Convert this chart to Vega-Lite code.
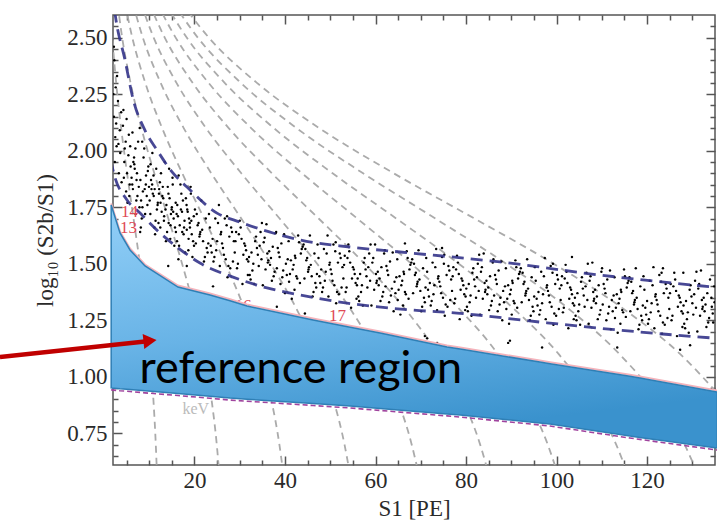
{
"$schema":"https://vega.github.io/schema/vega-lite/v6.json",
"width":602,"height":450,
"autosize":{"type":"none"},
"padding":{"left":113,"top":15,"right":2,"bottom":61},
"background":"white",
"config":{
 "view":{"stroke":"#555","strokeWidth":1.5},
 "style":{"guide-label":{"font":"Liberation Serif","fontSize":23,"fill":"#2a2a2a"},"guide-title":{"font":"Liberation Serif","fontSize":23,"fontWeight":"normal","fill":"#2a2a2a"}},
 "axis":{"labelFont":"Liberation Serif","labelFontSize":23,"labelColor":"#2a2a2a","titleFont":"Liberation Serif","titleFontSize":23,"titleFontWeight":"normal","titleColor":"#2a2a2a","domain":false,"grid":false,"tickColor":"#555","tickWidth":1.5}
},
"datasets":{
"grey":[
{"a":12.5,"s":1.235,"r":2.7},{"a":12.5,"s":1.851,"r":2.5},{"a":12.5,"s":2.699,"r":2.3},{"a":12.5,"s":3.798,"r":2.1},{"a":12.5,"s":5.113,"r":1.9},{"a":12.5,"s":6.538,"r":1.7},{"a":12.5,"s":7.935,"r":1.5},{"a":12.5,"s":9.17,"r":1.3},{"a":12.5,"s":10.17,"r":1.1},{"a":12.5,"s":10.922,"r":0.9},{"a":12.5,"s":11.455,"r":0.7},{"a":12.5,"s":11.656,"r":0.6},
{"a":27.2,"s":2.688,"r":2.7},{"a":27.2,"s":4.027,"r":2.5},{"a":27.2,"s":5.874,"r":2.3},{"a":27.2,"s":8.265,"r":2.1},{"a":27.2,"s":11.125,"r":1.9},{"a":27.2,"s":14.226,"r":1.7},{"a":27.2,"s":17.265,"r":1.5},{"a":27.2,"s":19.954,"r":1.3},{"a":27.2,"s":22.13,"r":1.1},{"a":27.2,"s":23.766,"r":0.9},{"a":27.2,"s":24.927,"r":0.7},{"a":27.2,"s":25.364,"r":0.6},
{"a":42.3,"s":4.18,"r":2.7},{"a":42.3,"s":6.263,"r":2.5},{"a":42.3,"s":9.134,"r":2.3},{"a":42.3,"s":12.853,"r":2.1},{"a":42.3,"s":17.301,"r":1.9},{"a":42.3,"s":22.123,"r":1.7},{"a":42.3,"s":26.85,"r":1.5},{"a":42.3,"s":31.032,"r":1.3},{"a":42.3,"s":34.416,"r":1.1},{"a":42.3,"s":36.959,"r":0.9},{"a":42.3,"s":38.765,"r":0.7},{"a":42.3,"s":39.444,"r":0.6},
{"a":58,"s":5.731,"r":2.7},{"a":58,"s":8.587,"r":2.5},{"a":58,"s":12.525,"r":2.3},{"a":58,"s":17.624,"r":2.1},{"a":58,"s":23.722,"r":1.9},{"a":58,"s":30.335,"r":1.7},{"a":58,"s":36.816,"r":1.5},{"a":58,"s":42.55,"r":1.3},{"a":58,"s":47.189,"r":1.1},{"a":58,"s":50.677,"r":0.9},{"a":58,"s":53.152,"r":0.7},{"a":58,"s":54.084,"r":0.6},
{"a":74.2,"s":7.332,"r":2.7},{"a":74.2,"s":10.986,"r":2.5},{"a":74.2,"s":16.023,"r":2.3},{"a":74.2,"s":22.546,"r":2.1},{"a":74.2,"s":30.348,"r":1.9},{"a":74.2,"s":38.807,"r":1.7},{"a":74.2,"s":47.099,"r":1.5},{"a":74.2,"s":54.435,"r":1.3},{"a":74.2,"s":60.37,"r":1.1},{"a":74.2,"s":64.832,"r":0.9},{"a":74.2,"s":67.998,"r":0.7},{"a":74.2,"s":69.191,"r":0.6},
{"a":90.7,"s":8.962,"r":2.7},{"a":90.7,"s":13.429,"r":2.5},{"a":90.7,"s":19.586,"r":2.3},{"a":90.7,"s":27.56,"r":2.1},{"a":90.7,"s":37.096,"r":1.9},{"a":90.7,"s":47.437,"r":1.7},{"a":90.7,"s":57.573,"r":1.5},{"a":90.7,"s":66.539,"r":1.3},{"a":90.7,"s":73.794,"r":1.1},{"a":90.7,"s":79.248,"r":0.9},{"a":90.7,"s":83.119,"r":0.7},{"a":90.7,"s":84.577,"r":0.6},
{"a":107,"s":10.573,"r":2.7},{"a":107,"s":15.842,"r":2.5},{"a":107,"s":23.106,"r":2.3},{"a":107,"s":32.513,"r":2.1},{"a":107,"s":43.763,"r":1.9},{"a":107,"s":55.962,"r":1.7},{"a":107,"s":67.919,"r":1.5},{"a":107,"s":78.497,"r":1.3},{"a":107,"s":87.056,"r":1.1},{"a":107,"s":93.49,"r":0.9},{"a":107,"s":98.057,"r":0.7},{"a":107,"s":99.776,"r":0.6},
{"a":123.5,"s":12.203,"r":2.7},{"a":123.5,"s":18.285,"r":2.5},{"a":123.5,"s":26.669,"r":2.3},{"a":123.5,"s":37.527,"r":2.1},{"a":123.5,"s":50.512,"r":1.9},{"a":123.5,"s":64.592,"r":1.7},{"a":123.5,"s":78.393,"r":1.5},{"a":123.5,"s":90.602,"r":1.3},{"a":123.5,"s":100.481,"r":1.1},{"a":123.5,"s":107.907,"r":0.9},{"a":123.5,"s":113.178,"r":0.7},{"a":123.5,"s":115.163,"r":0.6},
{"a":140,"s":13.833,"r":2.7},{"a":140,"s":20.728,"r":2.5},{"a":140,"s":30.232,"r":2.3},{"a":140,"s":42.54,"r":2.1},{"a":140,"s":57.26,"r":1.9},{"a":140,"s":73.221,"r":1.7},{"a":140,"s":88.866,"r":1.5},{"a":140,"s":102.707,"r":1.3},{"a":140,"s":113.905,"r":1.1},{"a":140,"s":122.324,"r":0.9},{"a":140,"s":128.299,"r":0.7},{"a":140,"s":130.549,"r":0.6},
{"a":156.5,"s":15.464,"r":2.7},{"a":156.5,"s":23.171,"r":2.5},{"a":156.5,"s":33.795,"r":2.3},{"a":156.5,"s":47.554,"r":2.1},{"a":156.5,"s":64.009,"r":1.9},{"a":156.5,"s":81.851,"r":1.7},{"a":156.5,"s":99.34,"r":1.5},{"a":156.5,"s":114.812,"r":1.3},{"a":156.5,"s":127.33,"r":1.1},{"a":156.5,"s":136.74,"r":0.9}
],
"navy":[
{"b":"up","s":2.35,"r":2.62},{"b":"up","s":2.66,"r":2.578},{"b":"up","s":4.65,"r":2.401},{"b":"up","s":6.49,"r":2.224},{"b":"up","s":9.07,"r":2.09},{"b":"up","s":11.72,"r":2.003},{"b":"up","s":15.04,"r":1.906},{"b":"up","s":18.35,"r":1.839},{"b":"up","s":24.98,"r":1.724},{"b":"up","s":30.06,"r":1.684},{"b":"up","s":37.35,"r":1.636},{"b":"up","s":43.32,"r":1.605},{"b":"up","s":54.36,"r":1.574},{"b":"up","s":65.41,"r":1.552},{"b":"up","s":87.5,"r":1.508},{"b":"up","s":109.6,"r":1.45},{"b":"up","s":135.5,"r":1.395},
{"b":"lo","s":1.5,"r":1.96},{"b":"lo","s":2.0,"r":1.914},{"b":"lo","s":5.09,"r":1.782},{"b":"lo","s":7.97,"r":1.724},{"b":"lo","s":12.38,"r":1.636},{"b":"lo","s":16.14,"r":1.574},{"b":"lo","s":21.22,"r":1.503},{"b":"lo","s":28.51,"r":1.441},{"b":"lo","s":36.03,"r":1.393},{"b":"lo","s":43.32,"r":1.362},{"b":"lo","s":53.7,"r":1.326},{"b":"lo","s":68.28,"r":1.295},{"b":"lo","s":78.0,"r":1.282},{"b":"lo","s":96.34,"r":1.242},{"b":"lo","s":118.4,"r":1.198},{"b":"lo","s":135.5,"r":1.17}
],
"poly":[
{"s":1.6,"top":1.76,"bot":0.951},{"s":3.55,"top":1.636,"bot":0.947},{"s":5.76,"top":1.561,"bot":0.944},{"s":9.07,"top":1.49,"bot":0.938},{"s":16.36,"top":1.397,"bot":0.926},{"s":23.43,"top":1.362,"bot":0.914},{"s":27.85,"top":1.336,"bot":0.906},{"s":31.6,"top":1.313,"bot":0.901},{"s":46.2,"top":1.251,"bot":0.882},{"s":54.4,"top":1.219,"bot":0.871},{"s":61.0,"top":1.194,"bot":0.86},{"s":75.8,"top":1.132,"bot":0.836},{"s":78.7,"top":1.123,"bot":0.831},{"s":96.3,"top":1.065,"bot":0.796},{"s":98.55,"top":1.058,"bot":0.791},{"s":116.2,"top":1.002,"bot":0.738},{"s":118.4,"top":0.995,"bot":0.732},{"s":135.5,"top":0.933,"bot":0.685}
],
"lbl":[{"s":5.65,"r":1.731,"t":"14"},{"s":5.42,"r":1.656,"t":"13"},{"s":30.7,"r":1.313,"t":"16"},{"s":51.6,"r":1.267,"t":"17"}],
"pts":[
{"s":2.3,"r":2.4},{"s":2.6,"r":2.28},{"s":2.2,"r":2.15},{"s":3.1,"r":2.22},{"s":2.8,"r":2.02},{"s":3.5,"r":2.09},{"s":2.4,"r":1.95},{"s":3.8,"r":2.17},{"s":2.9,"r":2.33},{"s":3.3,"r":1.9},{"s":2.5,"r":2.06},{"s":3.6,"r":1.99},{"s":2.1,"r":2.25},{"s":3.9,"r":1.86},{"s":2.2,"r":2.46},{"s":2.7,"r":2.12},{"s":3.2,"r":2.03},
{"s":4.2,"r":2.11},{"s":4.5,"r":1.95},{"s":4.8,"r":2.04},{"s":5.1,"r":1.9},{"s":5.4,"r":1.98},{"s":5.7,"r":1.85},{"s":4.3,"r":2.18},{"s":4.9,"r":1.82},{"s":5.5,"r":2.07},{"s":5.9,"r":1.93},{"s":4.6,"r":2.01},{"s":5.2,"r":1.77},{"s":5.8,"r":2.02},{"s":4.4,"r":1.88},{"s":5.0,"r":2.14},{"s":5.6,"r":1.8},
{"s":6.5,"r":1.95},{"s":7.7,"r":1.84},{"s":6.95,"r":2.01},{"s":6.1,"r":1.88},{"s":7.4,"r":1.8},{"s":6.65,"r":1.97},{"s":7.85,"r":1.75},{"s":6.3,"r":2.08},{"s":7.15,"r":1.78},{"s":6.8,"r":1.92},{"s":7.55,"r":2.04},{"s":6.25,"r":1.85},{"s":7.0,"r":1.72},{"s":7.9,"r":2.1},{"s":6.4,"r":1.83},{"s":7.3,"r":1.9},{"s":6.7,"r":1.94},{"s":7.2,"r":1.87},
{"s":9.3,"r":1.89},{"s":8.2,"r":1.78},{"s":9.8,"r":1.93},{"s":8.6,"r":1.82},{"s":9.1,"r":1.72},{"s":8.05,"r":1.87},{"s":9.6,"r":1.76},{"s":8.9,"r":2.01},{"s":8.35,"r":1.7},{"s":9.95,"r":1.84},{"s":8.75,"r":1.97},{"s":9.45,"r":1.8},{"s":8.15,"r":1.66},{"s":9.25,"r":1.85},{"s":8.5,"r":1.75},{"s":9.7,"r":1.91},{"s":9.0,"r":1.83},{"s":8.45,"r":2.04},
{"s":10.5,"r":1.83},{"s":11.7,"r":1.74},{"s":10.95,"r":1.89},{"s":10.1,"r":1.78},{"s":11.4,"r":1.69},{"s":10.65,"r":1.85},{"s":11.85,"r":1.76},{"s":10.3,"r":1.94},{"s":11.15,"r":1.66},{"s":10.8,"r":1.81},{"s":11.55,"r":1.92},{"s":10.25,"r":1.72},{"s":11.0,"r":1.8},{"s":11.9,"r":1.77},{"s":10.4,"r":1.87},{"s":11.3,"r":1.63},{"s":10.7,"r":1.99},{"s":11.2,"r":1.83},
{"s":13.3,"r":1.71},{"s":12.2,"r":1.83},{"s":13.8,"r":1.76},{"s":12.6,"r":1.9},{"s":13.1,"r":1.79},{"s":12.05,"r":1.68},{"s":13.6,"r":1.74},{"s":12.9,"r":1.8},{"s":12.35,"r":1.86},{"s":13.95,"r":1.64},{"s":12.75,"r":1.73},{"s":13.45,"r":1.95},{"s":12.15,"r":1.81},{"s":13.25,"r":1.69},{"s":12.5,"r":1.77},{"s":13.7,"r":1.6},{"s":13.0,"r":1.84},{"s":12.45,"r":1.66},
{"s":14.5,"r":1.79},{"s":15.7,"r":1.66},{"s":14.95,"r":1.74},{"s":14.1,"r":1.84},{"s":15.4,"r":1.7},{"s":14.65,"r":1.61},{"s":15.85,"r":1.77},{"s":14.3,"r":1.68},{"s":15.15,"r":1.88},{"s":14.8,"r":1.72},{"s":15.55,"r":1.58},{"s":14.25,"r":1.81},{"s":15.0,"r":1.75},{"s":15.9,"r":1.64},{"s":14.4,"r":1.92},{"s":15.3,"r":1.73},{"s":14.7,"r":1.67},{"s":15.2,"r":1.85},
{"s":17.3,"r":1.64},{"s":16.2,"r":1.76},{"s":17.8,"r":1.69},{"s":16.6,"r":1.58},{"s":17.1,"r":1.81},{"s":16.05,"r":1.72},{"s":17.6,"r":1.63},{"s":16.9,"r":1.85},{"s":16.35,"r":1.71},{"s":17.95,"r":1.55},{"s":16.75,"r":1.67},{"s":17.45,"r":1.78},{"s":16.15,"r":1.6},{"s":17.25,"r":1.73},{"s":16.5,"r":1.89},{"s":17.7,"r":1.66},{"s":17.0,"r":1.74},{"s":16.45,"r":1.52},
{"s":18.5,"r":1.73},{"s":19.7,"r":1.6},{"s":18.95,"r":1.68},{"s":18.1,"r":1.79},{"s":19.4,"r":1.63},{"s":18.65,"r":1.56},{"s":19.85,"r":1.71},{"s":18.3,"r":1.65},{"s":19.15,"r":1.84},{"s":18.8,"r":1.7},{"s":19.55,"r":1.53},{"s":18.25,"r":1.76},{"s":19.0,"r":1.66},{"s":19.9,"r":1.58},{"s":18.4,"r":1.74},{"s":19.3,"r":1.69},{"s":18.7,"r":1.61},{"s":19.2,"r":1.81},
{"s":21.7,"r":1.65},{"s":20.3,"r":1.59},{"s":22.5,"r":1.7},{"s":21.1,"r":1.62},{"s":22.9,"r":1.55},{"s":20.7,"r":1.67},{"s":21.9,"r":1.6},{"s":20.1,"r":1.74},{"s":22.3,"r":1.53},{"s":21.3,"r":1.64},{"s":20.5,"r":1.72},{"s":22.7,"r":1.57},{"s":20.9,"r":1.68},{"s":22.1,"r":1.51},{"s":21.5,"r":1.78},{"s":21.2,"r":1.63},
{"s":23.6,"r":1.58},{"s":25.2,"r":1.68},{"s":24.4,"r":1.53},{"s":25.8,"r":1.63},{"s":23.2,"r":1.72},{"s":24.8,"r":1.56},{"s":24.0,"r":1.61},{"s":25.6,"r":1.49},{"s":23.4,"r":1.66},{"s":25.0,"r":1.6},{"s":24.6,"r":1.7},{"s":23.8,"r":1.55},{"s":25.4,"r":1.76},{"s":24.2,"r":1.51},{"s":25.9,"r":1.64},{"s":23.05,"r":1.59},
{"s":27.7,"r":1.62},{"s":26.3,"r":1.57},{"s":28.5,"r":1.51},{"s":27.1,"r":1.67},{"s":28.9,"r":1.55},{"s":26.7,"r":1.7},{"s":27.9,"r":1.48},{"s":26.1,"r":1.59},{"s":28.3,"r":1.64},{"s":27.3,"r":1.44},{"s":26.5,"r":1.54},{"s":28.7,"r":1.6},{"s":26.9,"r":1.52},{"s":28.1,"r":1.66},{"s":27.5,"r":1.49},{"s":27.2,"r":1.71},
{"s":29.6,"r":1.5},{"s":31.2,"r":1.58},{"s":30.4,"r":1.61},{"s":31.8,"r":1.45},{"s":29.2,"r":1.64},{"s":30.8,"r":1.54},{"s":30.0,"r":1.69},{"s":31.6,"r":1.52},{"s":29.4,"r":1.48},{"s":31.0,"r":1.59},{"s":30.6,"r":1.41},{"s":29.8,"r":1.63},{"s":31.4,"r":1.56},{"s":30.2,"r":1.66},{"s":31.9,"r":1.51},{"s":29.05,"r":1.6},
{"s":32.6,"r":1.55},{"s":34.2,"r":1.49},{"s":33.4,"r":1.6},{"s":34.8,"r":1.52},{"s":32.2,"r":1.45},{"s":33.8,"r":1.57},{"s":33.0,"r":1.5},{"s":34.6,"r":1.64},{"s":32.4,"r":1.43},{"s":34.0,"r":1.54},{"s":33.6,"r":1.62},{"s":32.8,"r":1.47},{"s":34.4,"r":1.58},{"s":33.2,"r":1.41},{"s":34.9,"r":1.68},{"s":32.05,"r":1.53},
{"s":36.7,"r":1.495},{"s":35.3,"r":1.595},{"s":37.5,"r":1.445},{"s":36.1,"r":1.545},{"s":37.9,"r":1.635},{"s":35.7,"r":1.475},{"s":36.9,"r":1.525},{"s":35.1,"r":1.405},{"s":37.3,"r":1.575},{"s":36.3,"r":1.515},{"s":35.5,"r":1.615},{"s":37.7,"r":1.465},{"s":35.9,"r":1.675},{"s":37.1,"r":1.425},{"s":36.5,"r":1.555},{"s":36.2,"r":1.505},
{"s":38.6,"r":1.55},{"s":40.2,"r":1.5},{"s":39.4,"r":1.44},{"s":40.8,"r":1.6},{"s":38.2,"r":1.48},{"s":39.8,"r":1.63},{"s":39.0,"r":1.41},{"s":40.6,"r":1.52},{"s":38.4,"r":1.57},{"s":40.0,"r":1.37},{"s":39.6,"r":1.47},{"s":38.8,"r":1.53},{"s":40.4,"r":1.45},{"s":39.2,"r":1.59},{"s":40.9,"r":1.42},{"s":38.05,"r":1.64},
{"s":42.7,"r":1.435},{"s":41.3,"r":1.515},{"s":43.5,"r":1.545},{"s":42.1,"r":1.385},{"s":43.9,"r":1.575},{"s":41.7,"r":1.475},{"s":42.9,"r":1.625},{"s":41.1,"r":1.455},{"s":43.3,"r":1.415},{"s":42.3,"r":1.525},{"s":41.5,"r":1.345},{"s":43.7,"r":1.565},{"s":41.9,"r":1.495},{"s":43.1,"r":1.595},{"s":42.5,"r":1.445},{"s":42.2,"r":1.535},
{"s":45.7,"r":1.495},{"s":44.3,"r":1.435},{"s":46.5,"r":1.545},{"s":45.1,"r":1.465},{"s":46.9,"r":1.395},{"s":44.7,"r":1.515},{"s":45.9,"r":1.445},{"s":44.1,"r":1.585},{"s":46.3,"r":1.375},{"s":45.3,"r":1.485},{"s":44.5,"r":1.565},{"s":46.7,"r":1.415},{"s":44.9,"r":1.525},{"s":46.1,"r":1.355},{"s":45.5,"r":1.625},{"s":45.2,"r":1.475},
{"s":47.6,"r":1.445},{"s":49.2,"r":1.545},{"s":48.4,"r":1.395},{"s":49.8,"r":1.495},{"s":47.2,"r":1.585},{"s":48.8,"r":1.425},{"s":48.0,"r":1.475},{"s":49.6,"r":1.355},{"s":47.4,"r":1.525},{"s":49.0,"r":1.465},{"s":48.6,"r":1.565},{"s":47.8,"r":1.415},{"s":49.4,"r":1.625},{"s":48.2,"r":1.375},{"s":49.9,"r":1.505},{"s":47.05,"r":1.455},
{"s":51.7,"r":1.505},{"s":50.3,"r":1.455},{"s":52.5,"r":1.395},{"s":51.1,"r":1.555},{"s":52.9,"r":1.435},{"s":50.7,"r":1.585},{"s":51.9,"r":1.365},{"s":50.1,"r":1.475},{"s":52.3,"r":1.525},{"s":51.3,"r":1.325},{"s":50.5,"r":1.425},{"s":52.7,"r":1.485},{"s":50.9,"r":1.405},{"s":52.1,"r":1.545},{"s":51.5,"r":1.375},{"s":51.2,"r":1.595},
{"s":53.6,"r":1.395},{"s":55.2,"r":1.475},{"s":54.4,"r":1.505},{"s":55.8,"r":1.345},{"s":53.2,"r":1.535},{"s":54.8,"r":1.435},{"s":54.0,"r":1.585},{"s":55.6,"r":1.415},{"s":53.4,"r":1.375},{"s":55.0,"r":1.485},{"s":54.6,"r":1.305},{"s":53.8,"r":1.525},{"s":55.4,"r":1.455},{"s":54.2,"r":1.555},{"s":55.9,"r":1.405},{"s":53.05,"r":1.495},
{"s":56.6,"r":1.455},{"s":58.2,"r":1.395},{"s":57.4,"r":1.505},{"s":58.8,"r":1.425},{"s":56.2,"r":1.355},{"s":57.8,"r":1.475},{"s":57.0,"r":1.405},{"s":58.6,"r":1.545},{"s":56.4,"r":1.335},{"s":58.0,"r":1.445},{"s":57.6,"r":1.525},{"s":56.8,"r":1.375},{"s":58.4,"r":1.485},{"s":57.2,"r":1.315},{"s":58.9,"r":1.585},{"s":56.05,"r":1.435},
{"s":60.7,"r":1.405},{"s":59.3,"r":1.505},{"s":61.5,"r":1.355},{"s":60.1,"r":1.455},{"s":61.9,"r":1.545},{"s":59.7,"r":1.385},{"s":60.9,"r":1.435},{"s":59.1,"r":1.315},{"s":61.3,"r":1.485},{"s":60.3,"r":1.425},{"s":59.5,"r":1.525},{"s":61.7,"r":1.375},{"s":59.9,"r":1.585},{"s":61.1,"r":1.335},{"s":60.5,"r":1.465},{"s":60.2,"r":1.415},
{"s":62.6,"r":1.47},{"s":64.2,"r":1.42},{"s":63.4,"r":1.36},{"s":64.8,"r":1.52},{"s":62.2,"r":1.4},{"s":63.8,"r":1.55},{"s":63.0,"r":1.33},{"s":64.6,"r":1.44},{"s":62.4,"r":1.49},{"s":64.0,"r":1.29},{"s":63.6,"r":1.39},{"s":62.8,"r":1.45},{"s":64.4,"r":1.37},{"s":63.2,"r":1.51},{"s":64.9,"r":1.34},{"s":62.05,"r":1.56},
{"s":66.7,"r":1.365},{"s":65.3,"r":1.445},{"s":67.5,"r":1.475},{"s":66.1,"r":1.315},{"s":67.9,"r":1.505},{"s":65.7,"r":1.405},{"s":66.9,"r":1.555},{"s":65.1,"r":1.385},{"s":67.3,"r":1.345},{"s":66.3,"r":1.455},{"s":65.5,"r":1.275},{"s":67.7,"r":1.495},{"s":65.9,"r":1.425},{"s":67.1,"r":1.525},{"s":66.5,"r":1.375},{"s":66.2,"r":1.465},
{"s":69.7,"r":1.43},{"s":68.3,"r":1.37},{"s":70.5,"r":1.48},{"s":69.1,"r":1.4},{"s":70.9,"r":1.33},{"s":68.7,"r":1.45},{"s":69.9,"r":1.38},{"s":68.1,"r":1.52},{"s":70.3,"r":1.31},{"s":69.3,"r":1.42},{"s":68.5,"r":1.5},{"s":70.7,"r":1.35},{"s":68.9,"r":1.46},{"s":70.1,"r":1.29},{"s":69.5,"r":1.56},{"s":69.2,"r":1.41},
{"s":71.6,"r":1.385},{"s":73.2,"r":1.485},{"s":72.4,"r":1.335},{"s":73.8,"r":1.435},{"s":71.2,"r":1.525},{"s":72.8,"r":1.365},{"s":72.0,"r":1.415},{"s":73.6,"r":1.295},{"s":71.4,"r":1.465},{"s":73.0,"r":1.405},{"s":72.6,"r":1.505},{"s":71.8,"r":1.355},{"s":73.4,"r":1.565},{"s":72.2,"r":1.315},{"s":73.9,"r":1.445},{"s":71.05,"r":1.395},
{"s":75.7,"r":1.45},{"s":74.3,"r":1.4},{"s":76.5,"r":1.34},{"s":75.1,"r":1.5},{"s":76.9,"r":1.38},{"s":74.7,"r":1.53},{"s":75.9,"r":1.31},{"s":74.1,"r":1.42},{"s":76.3,"r":1.47},{"s":75.3,"r":1.27},{"s":74.5,"r":1.37},{"s":76.7,"r":1.43},{"s":74.9,"r":1.35},{"s":76.1,"r":1.49},{"s":75.5,"r":1.32},{"s":75.2,"r":1.54},
{"s":77.6,"r":1.345},{"s":79.2,"r":1.425},{"s":78.4,"r":1.455},{"s":79.8,"r":1.295},{"s":77.2,"r":1.485},{"s":78.8,"r":1.385},{"s":78.0,"r":1.535},{"s":79.6,"r":1.365},{"s":77.4,"r":1.325},{"s":79.0,"r":1.435},{"s":78.6,"r":1.255},{"s":77.8,"r":1.475},{"s":79.4,"r":1.405},{"s":78.2,"r":1.505},{"s":79.9,"r":1.355},{"s":77.05,"r":1.445},
{"s":80.6,"r":1.41},{"s":82.2,"r":1.35},{"s":81.4,"r":1.46},{"s":82.8,"r":1.38},{"s":80.2,"r":1.31},{"s":81.8,"r":1.43},{"s":81.0,"r":1.36},{"s":82.6,"r":1.5},{"s":80.4,"r":1.29},{"s":82.0,"r":1.4},{"s":81.6,"r":1.48},{"s":80.8,"r":1.33},{"s":82.4,"r":1.44},{"s":81.2,"r":1.27},{"s":82.9,"r":1.54},{"s":80.05,"r":1.39},
{"s":84.7,"r":1.365},{"s":83.3,"r":1.465},{"s":85.5,"r":1.315},{"s":84.1,"r":1.415},{"s":85.9,"r":1.505},{"s":83.7,"r":1.345},{"s":84.9,"r":1.395},{"s":83.1,"r":1.275},{"s":85.3,"r":1.445},{"s":84.3,"r":1.385},{"s":83.5,"r":1.485},{"s":85.7,"r":1.335},{"s":83.9,"r":1.545},{"s":85.1,"r":1.295},{"s":84.5,"r":1.425},{"s":84.2,"r":1.375},
{"s":86.6,"r":1.43},{"s":88.2,"r":1.38},{"s":87.4,"r":1.32},{"s":88.8,"r":1.48},{"s":86.2,"r":1.36},{"s":87.8,"r":1.51},{"s":87.0,"r":1.29},{"s":88.6,"r":1.4},{"s":86.4,"r":1.45},{"s":88.0,"r":1.25},{"s":87.6,"r":1.35},{"s":86.8,"r":1.41},{"s":88.4,"r":1.33},{"s":87.2,"r":1.47},{"s":88.9,"r":1.3},{"s":86.05,"r":1.52},
{"s":90.7,"r":1.325},{"s":89.3,"r":1.405},{"s":91.5,"r":1.435},{"s":90.1,"r":1.275},{"s":91.9,"r":1.465},{"s":89.7,"r":1.365},{"s":90.9,"r":1.515},{"s":89.1,"r":1.345},{"s":91.3,"r":1.305},{"s":90.3,"r":1.415},{"s":89.5,"r":1.235},{"s":91.7,"r":1.455},{"s":89.9,"r":1.385},{"s":91.1,"r":1.485},{"s":90.5,"r":1.335},{"s":90.2,"r":1.425},
{"s":93.7,"r":1.39},{"s":92.3,"r":1.33},{"s":94.5,"r":1.44},{"s":93.1,"r":1.36},{"s":94.9,"r":1.29},{"s":92.7,"r":1.41},{"s":93.9,"r":1.34},{"s":92.1,"r":1.48},{"s":94.3,"r":1.27},{"s":93.3,"r":1.38},{"s":92.5,"r":1.46},{"s":94.7,"r":1.31},{"s":92.9,"r":1.42},{"s":94.1,"r":1.25},{"s":93.5,"r":1.52},{"s":93.2,"r":1.37},
{"s":95.6,"r":1.345},{"s":97.2,"r":1.445},{"s":96.4,"r":1.295},{"s":97.8,"r":1.395},{"s":95.2,"r":1.485},{"s":96.8,"r":1.325},{"s":96.0,"r":1.375},{"s":97.6,"r":1.255},{"s":95.4,"r":1.425},{"s":97.0,"r":1.365},{"s":96.6,"r":1.465},{"s":95.8,"r":1.315},{"s":97.4,"r":1.525},{"s":96.2,"r":1.275},{"s":97.9,"r":1.405},{"s":95.05,"r":1.355},
{"s":99.7,"r":1.41},{"s":98.3,"r":1.36},{"s":100.5,"r":1.3},{"s":99.1,"r":1.46},{"s":100.9,"r":1.34},{"s":98.7,"r":1.49},{"s":99.9,"r":1.27},{"s":98.1,"r":1.38},{"s":100.3,"r":1.43},{"s":99.3,"r":1.23},{"s":98.5,"r":1.33},{"s":100.7,"r":1.39},{"s":98.9,"r":1.31},{"s":100.1,"r":1.45},{"s":99.5,"r":1.28},{"s":99.2,"r":1.5},
{"s":101.6,"r":1.305},{"s":103.2,"r":1.385},{"s":102.4,"r":1.415},{"s":103.8,"r":1.255},{"s":101.2,"r":1.445},{"s":102.8,"r":1.345},{"s":102.0,"r":1.495},{"s":103.6,"r":1.325},{"s":101.4,"r":1.285},{"s":103.0,"r":1.395},{"s":102.6,"r":1.215},{"s":101.8,"r":1.435},{"s":103.4,"r":1.365},{"s":102.2,"r":1.465},{"s":103.9,"r":1.315},{"s":101.05,"r":1.405},
{"s":104.6,"r":1.37},{"s":106.2,"r":1.31},{"s":105.4,"r":1.42},{"s":106.8,"r":1.34},{"s":104.2,"r":1.27},{"s":105.8,"r":1.39},{"s":105.0,"r":1.32},{"s":106.6,"r":1.46},{"s":104.4,"r":1.25},{"s":106.0,"r":1.36},{"s":105.6,"r":1.44},{"s":104.8,"r":1.29},{"s":106.4,"r":1.4},{"s":105.2,"r":1.23},{"s":106.9,"r":1.5},{"s":104.05,"r":1.35},
{"s":108.7,"r":1.325},{"s":107.3,"r":1.425},{"s":109.5,"r":1.275},{"s":108.1,"r":1.375},{"s":109.9,"r":1.465},{"s":107.7,"r":1.305},{"s":108.9,"r":1.355},{"s":107.1,"r":1.235},{"s":109.3,"r":1.405},{"s":108.3,"r":1.345},{"s":107.5,"r":1.445},{"s":109.7,"r":1.295},{"s":107.9,"r":1.505},{"s":109.1,"r":1.255},{"s":108.5,"r":1.385},{"s":108.2,"r":1.335},
{"s":110.6,"r":1.39},{"s":112.2,"r":1.34},{"s":111.4,"r":1.28},{"s":112.8,"r":1.44},{"s":110.2,"r":1.32},{"s":111.8,"r":1.47},{"s":111.0,"r":1.25},{"s":112.6,"r":1.36},{"s":110.4,"r":1.41},{"s":112.0,"r":1.21},{"s":111.6,"r":1.31},{"s":110.8,"r":1.37},{"s":112.4,"r":1.29},{"s":111.2,"r":1.43},{"s":112.9,"r":1.26},{"s":110.05,"r":1.48},
{"s":114.7,"r":1.285},{"s":113.3,"r":1.365},{"s":115.5,"r":1.395},{"s":114.1,"r":1.235},{"s":115.9,"r":1.425},{"s":113.7,"r":1.325},{"s":114.9,"r":1.475},{"s":113.1,"r":1.305},{"s":115.3,"r":1.265},{"s":114.3,"r":1.375},{"s":113.5,"r":1.195},{"s":115.7,"r":1.415},{"s":113.9,"r":1.345},{"s":115.1,"r":1.445},{"s":114.5,"r":1.295},{"s":114.2,"r":1.385},
{"s":117.7,"r":1.35},{"s":116.3,"r":1.29},{"s":118.5,"r":1.4},{"s":117.1,"r":1.32},{"s":118.9,"r":1.25},{"s":116.7,"r":1.37},{"s":117.9,"r":1.3},{"s":116.1,"r":1.44},{"s":118.3,"r":1.23},{"s":117.3,"r":1.34},{"s":116.5,"r":1.42},{"s":118.7,"r":1.27},{"s":116.9,"r":1.38},{"s":118.1,"r":1.21},{"s":117.5,"r":1.48},{"s":117.2,"r":1.33},
{"s":119.6,"r":1.305},{"s":121.2,"r":1.405},{"s":120.4,"r":1.255},{"s":121.8,"r":1.355},{"s":119.2,"r":1.445},{"s":120.8,"r":1.285},{"s":120.0,"r":1.335},{"s":121.6,"r":1.215},{"s":119.4,"r":1.385},{"s":121.0,"r":1.325},{"s":120.6,"r":1.425},{"s":119.8,"r":1.275},{"s":121.4,"r":1.485},{"s":120.2,"r":1.235},{"s":121.9,"r":1.365},{"s":119.05,"r":1.315},
{"s":123.7,"r":1.37},{"s":122.3,"r":1.32},{"s":124.5,"r":1.26},{"s":123.1,"r":1.42},{"s":124.9,"r":1.3},{"s":122.7,"r":1.45},{"s":123.9,"r":1.23},{"s":122.1,"r":1.34},{"s":124.3,"r":1.39},{"s":123.3,"r":1.19},{"s":122.5,"r":1.29},{"s":124.7,"r":1.35},{"s":122.9,"r":1.27},{"s":124.1,"r":1.41},{"s":123.5,"r":1.24},{"s":123.2,"r":1.46},
{"s":125.6,"r":1.27},{"s":127.2,"r":1.35},{"s":126.4,"r":1.38},{"s":127.8,"r":1.22},{"s":125.2,"r":1.41},{"s":126.8,"r":1.31},{"s":126.0,"r":1.46},{"s":127.6,"r":1.29},{"s":125.4,"r":1.25},{"s":127.0,"r":1.36},{"s":126.6,"r":1.18},{"s":125.8,"r":1.4},{"s":127.4,"r":1.33},{"s":126.2,"r":1.43},{"s":127.9,"r":1.28},{"s":125.05,"r":1.37},
{"s":128.6,"r":1.335},{"s":130.2,"r":1.275},{"s":129.4,"r":1.385},{"s":130.8,"r":1.305},{"s":128.2,"r":1.235},{"s":129.8,"r":1.355},{"s":129.0,"r":1.285},{"s":130.6,"r":1.425},{"s":128.4,"r":1.215},{"s":130.0,"r":1.325},{"s":129.6,"r":1.405},{"s":128.8,"r":1.255},{"s":130.4,"r":1.365},{"s":129.2,"r":1.195},{"s":130.9,"r":1.465},{"s":128.05,"r":1.315},
{"s":132.7,"r":1.29},{"s":131.3,"r":1.39},{"s":133.5,"r":1.24},{"s":132.1,"r":1.34},{"s":133.9,"r":1.43},{"s":131.7,"r":1.27},{"s":132.9,"r":1.32},{"s":131.1,"r":1.2},{"s":133.3,"r":1.37},{"s":132.3,"r":1.31},{"s":131.5,"r":1.41},{"s":133.7,"r":1.26},{"s":131.9,"r":1.47},{"s":133.1,"r":1.22},{"s":132.5,"r":1.35},{"s":132.2,"r":1.3},
{"s":134.2,"r":1.35},{"s":134.5,"r":1.28},{"s":134.8,"r":1.4},{"s":134.3,"r":1.31},{"s":134.6,"r":1.24},{"s":134.9,"r":1.33},
{"s":8.0,"r":1.64},{"s":14.2,"r":1.49},{"s":18.3,"r":1.49},{"s":24.1,"r":1.4},{"s":38.2,"r":1.31},{"s":44.4,"r":1.28},{"s":66.5,"r":1.59},{"s":70.9,"r":1.18},{"s":71.4,"r":1.17},{"s":73.6,"r":1.15},{"s":74.2,"r":1.14},{"s":74.7,"r":1.57},{"s":89.3,"r":1.15},{"s":89.7,"r":1.16},{"s":96.8,"r":1.13},{"s":103.4,"r":1.53},{"s":113.4,"r":1.13},{"s":123.5,"r":1.48},{"s":127.3,"r":1.12},{"s":128,"r":1.46},{"s":129.5,"r":1.14}
]
},
"layer":[
 {"data":{"name":"grey"},
  "mark":{"type":"line","clip":true,"color":"#ababab","strokeWidth":1.8,"strokeDash":[7,5],"interpolate":"monotone"},
  "encoding":{
   "x":{"field":"s","type":"quantitative","scale":{"domain":[2,135],"nice":false,"zero":false},"axis":{"orient":"bottom","values":[20,40,60,80,100,120],"format":"d","ticks":false,"labelPadding":4,"labelFont":"Liberation Serif","labelFontSize":23,"labelColor":"#2a2a2a","title":"S1 [PE]","titlePadding":5,"titleFont":"Liberation Serif","titleFontSize":23,"titleFontWeight":"normal"}},
   "y":{"field":"r","type":"quantitative","scale":{"domain":[0.61,2.6],"nice":false,"zero":false},"axis":{"orient":"left","values":[0.75,1,1.25,1.5,1.75,2,2.25,2.5],"format":".2f","ticks":false,"labelPadding":6,"labelFont":"Liberation Serif","labelFontSize":23,"labelColor":"#2a2a2a","title":"log₁₀ (S2b/S1)","titlePadding":9,"titleFont":"Liberation Serif","titleFontSize":23,"titleFontWeight":"normal"}},
   "detail":{"field":"a","type":"nominal"}
  }},
 {"data":{"name":"pts"},
  "mark":{"type":"circle","size":6,"color":"#000000","opacity":1,"clip":true},
  "encoding":{
   "x":{"field":"s","type":"quantitative","axis":{"orient":"bottom","values":[20,40,60,80,100,120],"labels":false,"tickSize":-9,"title":null}},
   "y":{"field":"r","type":"quantitative","axis":{"orient":"left","values":[0.75,1,1.25,1.5,1.75,2,2.25,2.5],"labels":false,"tickSize":-9,"title":null}}
  }},
 {"data":{"name":"navy"},
  "mark":{"type":"line","clip":true,"color":"#34348a","strokeWidth":2.8,"strokeDash":[12,7],"opacity":0.9,"interpolate":"monotone"},
  "encoding":{
   "x":{"field":"s","type":"quantitative","axis":{"orient":"bottom","values":[5,10,15,25,30,35,45,50,55,65,70,75,85,90,95,105,110,115,125,130],"labels":false,"tickSize":-5,"title":null}},
   "y":{"field":"r","type":"quantitative","axis":{"orient":"left","values":[0.65,0.7,0.8,0.85,0.9,0.95,1.05,1.1,1.15,1.2,1.3,1.35,1.4,1.45,1.55,1.6,1.65,1.7,1.8,1.85,1.9,1.95,2.05,2.1,2.15,2.2,2.3,2.35,2.4,2.45,2.55],"labels":false,"tickSize":-5,"title":null}},
   "detail":{"field":"b","type":"nominal"}
  }},
 {"data":{"name":"lbl"},
  "mark":{"type":"text","font":"Liberation Serif","fontSize":17,"color":"#e04a55","align":"center","baseline":"middle"},
  "encoding":{
   "x":{"field":"s","type":"quantitative","axis":{"orient":"top","values":[20,40,60,80,100,120],"labels":false,"tickSize":-9,"title":null}},
   "y":{"field":"r","type":"quantitative","axis":{"orient":"right","values":[0.75,1,1.25,1.5,1.75,2,2.25,2.5],"labels":false,"tickSize":-9,"title":null}},
   "text":{"field":"t"}
  }},
 {"data":{"name":"poly"},
  "mark":{"type":"line","clip":false,"color":"#f4b3bb","strokeWidth":2,"yOffset":-1.5},
  "encoding":{
   "x":{"field":"s","type":"quantitative","axis":{"orient":"top","values":[5,10,15,25,30,35,45,50,55,65,70,75,85,90,95,105,110,115,125,130],"labels":false,"tickSize":-5,"title":null}},
   "y":{"field":"top","type":"quantitative","axis":{"orient":"right","values":[0.65,0.7,0.8,0.85,0.9,0.95,1.05,1.1,1.15,1.2,1.3,1.35,1.4,1.45,1.55,1.6,1.65,1.7,1.8,1.85,1.9,1.95,2.05,2.1,2.15,2.2,2.3,2.35,2.4,2.45,2.55],"labels":false,"tickSize":-5,"title":null}}
  }},
 {"data":{"name":"poly"},
  "mark":{"type":"line","clip":false,"color":"#a0449e","strokeWidth":1.6,"strokeDash":[5,3],"yOffset":2},
  "encoding":{
   "x":{"field":"s","type":"quantitative","axis":null},
   "y":{"field":"bot","type":"quantitative","axis":null}
  }},
 {"data":{"name":"poly"},
  "mark":{"type":"area","clip":false,"stroke":"#2f7fb5","strokeWidth":1.5,"opacity":1,
    "fill":{"gradient":"linear","x1":0,"y1":0,"x2":0.3,"y2":1,"stops":[{"offset":0,"color":"#93d0f8"},{"offset":0.55,"color":"#68b3e6"},{"offset":1,"color":"#3a92cd"}]}},
  "encoding":{
   "x":{"field":"s","type":"quantitative","axis":null},
   "y":{"field":"top","type":"quantitative","axis":null},
   "y2":{"field":"bot"}
  }},
 {"data":{"values":[{"s":-22.97,"r":1.087,"s2":9.07,"r2":1.156}]},
  "mark":{"type":"rule","clip":false,"color":"#c00000","strokeWidth":4.5},
  "encoding":{
   "x":{"field":"s","type":"quantitative","axis":null},
   "y":{"field":"r","type":"quantitative","axis":null},
   "x2":{"field":"s2"},
   "y2":{"field":"r2"}
  }},
 {"data":{"values":[{"s":10.175,"r":1.1595}]},
  "mark":{"type":"point","shape":"triangle-right","filled":true,"size":230,"angle":-6,"color":"#c00000","opacity":1,"clip":false},
  "encoding":{
   "x":{"field":"s","type":"quantitative","axis":null},
   "y":{"field":"r","type":"quantitative","axis":null}
  }},
 {"data":{"values":[{"s":7.86,"r":0.974,"t":"reference region"}]},
  "mark":{"type":"text","align":"left","baseline":"alphabetic","font":"Lato","fontSize":45,"color":"#000000"},
  "encoding":{
   "x":{"field":"s","type":"quantitative","axis":null},
   "y":{"field":"r","type":"quantitative","axis":null},
   "text":{"field":"t"}
  }},
 {"data":{"values":[{"s":20.3,"r":0.857,"t":"keV"}]},
  "mark":{"type":"text","align":"center","baseline":"middle","font":"Liberation Serif","fontSize":16,"color":"#bbbbbb"},
  "encoding":{
   "x":{"field":"s","type":"quantitative","axis":null},
   "y":{"field":"r","type":"quantitative","axis":null},
   "text":{"field":"t"}
  }}
],
"resolve":{"axis":{"x":"independent","y":"independent"}}
}
